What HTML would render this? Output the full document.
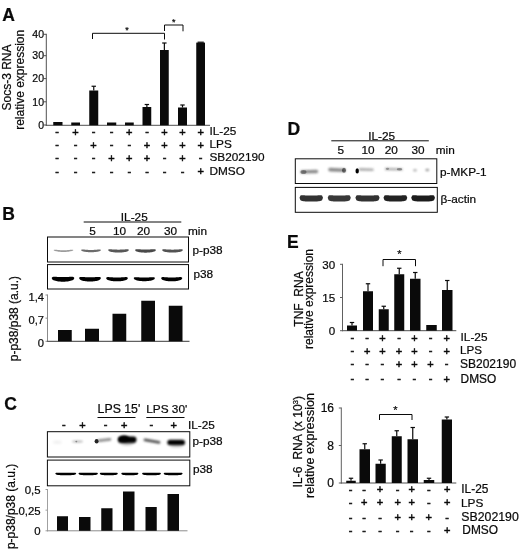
<!DOCTYPE html>
<html><head><meta charset="utf-8"><title>Figure</title>
<style>
html,body{margin:0;padding:0;background:#fff;}
svg{display:block;font-family:'Liberation Sans', sans-serif;fill:#0a0a0a;}
text{stroke:#0a0a0a;stroke-width:0.22px;}
text.s{stroke-width:0.5px;}
</style></head><body>
<svg width="520" height="552" viewBox="0 0 520 552">
<defs>
<filter id="b1" filterUnits="userSpaceOnUse" x="0" y="0" width="520" height="552"><feGaussianBlur stdDeviation="0.9"/></filter>
<filter id="b2" filterUnits="userSpaceOnUse" x="0" y="0" width="520" height="552"><feGaussianBlur stdDeviation="1.4"/></filter>
<filter id="b04" filterUnits="userSpaceOnUse" x="0" y="0" width="520" height="552"><feGaussianBlur stdDeviation="0.4"/></filter>
<filter id="b07" filterUnits="userSpaceOnUse" x="0" y="0" width="520" height="552"><feGaussianBlur stdDeviation="0.75"/></filter>
<filter id="b05" filterUnits="userSpaceOnUse" x="0" y="0" width="520" height="552"><feGaussianBlur stdDeviation="0.6"/></filter>
</defs>
<rect width="520" height="552" fill="#fff"/>

<text x="2.3" y="20.6" font-size="17.5" text-anchor="start" font-weight="bold" >A</text>
<text transform="translate(11.2,77.5) rotate(-90)" font-size="12" text-anchor="middle" >Socs-3 RNA</text>
<text transform="translate(23.5,79.8) rotate(-90)" font-size="12" text-anchor="middle" >relative expression</text>
<line x1="46.3" y1="33.8" x2="46.3" y2="125.8" stroke="#505050" stroke-width="1"/>
<line x1="45.8" y1="125.3" x2="210" y2="125.3" stroke="#505050" stroke-width="1"/>
<line x1="43.8" y1="125.0" x2="46.3" y2="125.0" stroke="#505050" stroke-width="1"/>
<text x="44" y="128.7" font-size="10.5" text-anchor="end" font-weight="normal" >0</text>
<line x1="43.8" y1="101.8" x2="46.3" y2="101.8" stroke="#505050" stroke-width="1"/>
<text x="44" y="105.5" font-size="10.5" text-anchor="end" font-weight="normal" >10</text>
<line x1="43.8" y1="78.6" x2="46.3" y2="78.6" stroke="#505050" stroke-width="1"/>
<text x="44" y="82.3" font-size="10.5" text-anchor="end" font-weight="normal" >20</text>
<line x1="43.8" y1="55.7" x2="46.3" y2="55.7" stroke="#505050" stroke-width="1"/>
<text x="44" y="59.400000000000006" font-size="10.5" text-anchor="end" font-weight="normal" >30</text>
<line x1="43.8" y1="34.3" x2="46.3" y2="34.3" stroke="#505050" stroke-width="1"/>
<text x="44" y="38.0" font-size="10.5" text-anchor="end" font-weight="normal" >40</text>
<rect x="53.25" y="122" width="9.25" height="3.299999999999997" fill="#0a0a0a"/>
<rect x="71.25" y="122.5" width="8.75" height="2.799999999999997" fill="#0a0a0a"/>
<rect x="89.25" y="90.5" width="9.0" height="34.8" fill="#0a0a0a"/>
<line x1="93.75" y1="86.25" x2="93.75" y2="90.5" stroke="#0a0a0a" stroke-width="1.2"/>
<line x1="91.55" y1="86.25" x2="95.95" y2="86.25" stroke="#0a0a0a" stroke-width="1.2"/>
<rect x="107" y="122.5" width="9.25" height="2.799999999999997" fill="#0a0a0a"/>
<rect x="125" y="122.5" width="8.75" height="2.799999999999997" fill="#0a0a0a"/>
<rect x="142.5" y="107" width="8.75" height="18.299999999999997" fill="#0a0a0a"/>
<line x1="146.875" y1="104.5" x2="146.875" y2="107" stroke="#0a0a0a" stroke-width="1.2"/>
<line x1="144.675" y1="104.5" x2="149.075" y2="104.5" stroke="#0a0a0a" stroke-width="1.2"/>
<rect x="160" y="50" width="8.75" height="75.3" fill="#0a0a0a"/>
<line x1="164.375" y1="43" x2="164.375" y2="50" stroke="#0a0a0a" stroke-width="1.2"/>
<line x1="162.175" y1="43" x2="166.575" y2="43" stroke="#0a0a0a" stroke-width="1.2"/>
<rect x="178" y="107.5" width="9" height="17.799999999999997" fill="#0a0a0a"/>
<line x1="182.5" y1="105" x2="182.5" y2="107.5" stroke="#0a0a0a" stroke-width="1.2"/>
<line x1="180.3" y1="105" x2="184.7" y2="105" stroke="#0a0a0a" stroke-width="1.2"/>
<rect x="196.25" y="42.6" width="8.75" height="82.69999999999999" fill="#0a0a0a"/>
<rect x="197.6" y="41.6" width="6.2" height="1.2" fill="#0a0a0a"/>
<polyline points="92.5,39 92.5,33.3 164.5,33.3 164.5,39.5" fill="none" stroke="#0a0a0a" stroke-width="1"/>
<polyline points="164.5,31 164.5,25 183,25 183,31.3" fill="none" stroke="#0a0a0a" stroke-width="1"/>
<text x="127" y="33.2" font-size="9" text-anchor="middle" font-weight="normal" >*</text>
<text x="173.8" y="25" font-size="9" text-anchor="middle" font-weight="normal" >*</text>
<text x="57" y="135.2" font-size="11" text-anchor="middle" font-weight="normal" class="s">-</text>
<text x="75.5" y="135.6" font-size="11" text-anchor="middle" font-weight="normal" class="s">+</text>
<text x="93.5" y="135.2" font-size="11" text-anchor="middle" font-weight="normal" class="s">-</text>
<text x="111.5" y="135.2" font-size="11" text-anchor="middle" font-weight="normal" class="s">-</text>
<text x="129.3" y="135.6" font-size="11" text-anchor="middle" font-weight="normal" class="s">+</text>
<text x="147" y="135.2" font-size="11" text-anchor="middle" font-weight="normal" class="s">-</text>
<text x="164.5" y="135.6" font-size="11" text-anchor="middle" font-weight="normal" class="s">+</text>
<text x="182.5" y="135.6" font-size="11" text-anchor="middle" font-weight="normal" class="s">+</text>
<text x="200.7" y="135.6" font-size="11" text-anchor="middle" font-weight="normal" class="s">+</text>
<text x="57" y="148.2" font-size="11" text-anchor="middle" font-weight="normal" class="s">-</text>
<text x="75.5" y="148.2" font-size="11" text-anchor="middle" font-weight="normal" class="s">-</text>
<text x="93.5" y="148.6" font-size="11" text-anchor="middle" font-weight="normal" class="s">+</text>
<text x="111.5" y="148.2" font-size="11" text-anchor="middle" font-weight="normal" class="s">-</text>
<text x="129.3" y="148.2" font-size="11" text-anchor="middle" font-weight="normal" class="s">-</text>
<text x="147" y="148.6" font-size="11" text-anchor="middle" font-weight="normal" class="s">+</text>
<text x="164.5" y="148.6" font-size="11" text-anchor="middle" font-weight="normal" class="s">+</text>
<text x="182.5" y="148.6" font-size="11" text-anchor="middle" font-weight="normal" class="s">+</text>
<text x="200.7" y="148.6" font-size="11" text-anchor="middle" font-weight="normal" class="s">+</text>
<text x="57" y="161.2" font-size="11" text-anchor="middle" font-weight="normal" class="s">-</text>
<text x="75.5" y="161.2" font-size="11" text-anchor="middle" font-weight="normal" class="s">-</text>
<text x="93.5" y="161.2" font-size="11" text-anchor="middle" font-weight="normal" class="s">-</text>
<text x="111.5" y="161.6" font-size="11" text-anchor="middle" font-weight="normal" class="s">+</text>
<text x="129.3" y="161.6" font-size="11" text-anchor="middle" font-weight="normal" class="s">+</text>
<text x="147" y="161.6" font-size="11" text-anchor="middle" font-weight="normal" class="s">+</text>
<text x="164.5" y="161.2" font-size="11" text-anchor="middle" font-weight="normal" class="s">-</text>
<text x="182.5" y="161.6" font-size="11" text-anchor="middle" font-weight="normal" class="s">+</text>
<text x="200.7" y="161.2" font-size="11" text-anchor="middle" font-weight="normal" class="s">-</text>
<text x="57" y="174.5" font-size="11" text-anchor="middle" font-weight="normal" class="s">-</text>
<text x="75.5" y="174.5" font-size="11" text-anchor="middle" font-weight="normal" class="s">-</text>
<text x="93.5" y="174.5" font-size="11" text-anchor="middle" font-weight="normal" class="s">-</text>
<text x="111.5" y="174.5" font-size="11" text-anchor="middle" font-weight="normal" class="s">-</text>
<text x="129.3" y="174.5" font-size="11" text-anchor="middle" font-weight="normal" class="s">-</text>
<text x="147" y="174.5" font-size="11" text-anchor="middle" font-weight="normal" class="s">-</text>
<text x="164.5" y="174.5" font-size="11" text-anchor="middle" font-weight="normal" class="s">-</text>
<text x="182.5" y="174.5" font-size="11" text-anchor="middle" font-weight="normal" class="s">-</text>
<text x="200.7" y="174.9" font-size="11" text-anchor="middle" font-weight="normal" class="s">+</text>
<text x="209.5" y="135.2" font-size="11.8" text-anchor="start" font-weight="normal" >IL-25</text>
<text x="209.5" y="147.8" font-size="11.8" text-anchor="start" font-weight="normal" >LPS</text>
<text x="209.5" y="161.3" font-size="11.8" text-anchor="start" font-weight="normal" >SB202190</text>
<text x="209.5" y="174.6" font-size="11.8" text-anchor="start" font-weight="normal" >DMSO</text>
<text x="2.2" y="219.6" font-size="17.5" text-anchor="start" font-weight="bold" >B</text>
<text x="134.3" y="220.8" font-size="11.8" text-anchor="middle" font-weight="normal" >IL-25</text>
<line x1="83.7" y1="222" x2="181.3" y2="222" stroke="#0a0a0a" stroke-width="1"/>
<text x="92.5" y="234.5" font-size="11.8" text-anchor="middle" font-weight="normal" >5</text>
<text x="119.5" y="234.5" font-size="11.8" text-anchor="middle" font-weight="normal" >10</text>
<text x="143.5" y="234.5" font-size="11.8" text-anchor="middle" font-weight="normal" >20</text>
<text x="170.6" y="234.5" font-size="11.8" text-anchor="middle" font-weight="normal" >30</text>
<text x="188" y="234.5" font-size="11.8" text-anchor="start" font-weight="normal" >min</text>
<rect x="47.5" y="237" width="141.0" height="25" fill="#fff" stroke="#0a0a0a" stroke-width="1"/>
<rect x="47.5" y="264.6" width="141.0" height="24.399999999999977" fill="#fff" stroke="#0a0a0a" stroke-width="1"/>
<text x="192.5" y="253.8" font-size="11.8" text-anchor="start" font-weight="normal" >p-p38</text>
<text x="193.5" y="278.3" font-size="11.8" text-anchor="start" font-weight="normal" >p38</text>
<path d="M53.50,250.00 L54.33,249.66 L55.17,249.70 L56.00,249.77 L56.83,249.86 L57.67,249.94 L58.50,250.01 L59.33,250.08 L60.17,250.14 L61.00,250.19 L61.83,250.22 L62.67,250.24 L63.50,250.25 L64.33,250.24 L65.17,250.22 L66.00,250.19 L66.83,250.14 L67.67,250.08 L68.50,250.01 L69.33,249.94 L70.17,249.86 L71.00,249.77 L71.83,249.70 L72.67,249.66 L73.50,250.00 L73.50,250.00 L72.67,250.70 L71.83,250.97 L71.00,251.19 L70.17,251.37 L69.33,251.52 L68.50,251.64 L67.67,251.74 L66.83,251.82 L66.00,251.88 L65.17,251.92 L64.33,251.94 L63.50,251.95 L62.67,251.94 L61.83,251.92 L61.00,251.88 L60.17,251.82 L59.33,251.74 L58.50,251.64 L57.67,251.52 L56.83,251.37 L56.00,251.19 L55.17,250.97 L54.33,250.70 L53.50,250.00Z" fill="#9c9c9c" opacity="1.0" filter="url(#b04)"/>
<path d="M81.00,250.00 L81.83,249.47 L82.67,249.47 L83.50,249.52 L84.33,249.59 L85.17,249.66 L86.00,249.73 L86.83,249.79 L87.67,249.84 L88.50,249.89 L89.33,249.92 L90.17,249.94 L91.00,249.95 L91.83,249.94 L92.67,249.92 L93.50,249.89 L94.33,249.84 L95.17,249.79 L96.00,249.73 L96.83,249.66 L97.67,249.59 L98.50,249.52 L99.33,249.47 L100.17,249.47 L101.00,250.00 L101.00,250.00 L100.17,250.88 L99.33,251.20 L98.50,251.44 L97.67,251.63 L96.83,251.79 L96.00,251.92 L95.17,252.03 L94.33,252.11 L93.50,252.18 L92.67,252.22 L91.83,252.24 L91.00,252.25 L90.17,252.24 L89.33,252.22 L88.50,252.18 L87.67,252.11 L86.83,252.03 L86.00,251.92 L85.17,251.79 L84.33,251.63 L83.50,251.44 L82.67,251.20 L81.83,250.88 L81.00,250.00Z" fill="#6c6c6c" opacity="1.0" filter="url(#b04)"/>
<path d="M108.00,250.00 L108.88,249.29 L109.75,249.25 L110.62,249.27 L111.50,249.32 L112.38,249.38 L113.25,249.44 L114.12,249.49 L115.00,249.55 L115.88,249.59 L116.75,249.62 L117.62,249.64 L118.50,249.65 L119.38,249.64 L120.25,249.62 L121.12,249.59 L122.00,249.55 L122.88,249.49 L123.75,249.44 L124.62,249.38 L125.50,249.32 L126.38,249.27 L127.25,249.25 L128.12,249.29 L129.00,250.00 L129.00,250.00 L128.12,251.06 L127.25,251.42 L126.38,251.69 L125.50,251.90 L124.62,252.07 L123.75,252.21 L122.88,252.32 L122.00,252.41 L121.12,252.47 L120.25,252.52 L119.38,252.54 L118.50,252.55 L117.62,252.54 L116.75,252.52 L115.88,252.47 L115.00,252.41 L114.12,252.32 L113.25,252.21 L112.38,252.07 L111.50,251.90 L110.62,251.69 L109.75,251.42 L108.88,251.06 L108.00,250.00Z" fill="#585858" opacity="1.0" filter="url(#b04)"/>
<path d="M135.00,250.00 L135.88,249.23 L136.75,249.17 L137.62,249.19 L138.50,249.23 L139.38,249.29 L140.25,249.34 L141.12,249.40 L142.00,249.45 L142.88,249.49 L143.75,249.52 L144.62,249.54 L145.50,249.55 L146.38,249.54 L147.25,249.52 L148.12,249.49 L149.00,249.45 L149.88,249.40 L150.75,249.34 L151.62,249.29 L152.50,249.23 L153.38,249.19 L154.25,249.17 L155.12,249.23 L156.00,250.00 L156.00,250.00 L155.12,251.13 L154.25,251.50 L153.38,251.77 L152.50,251.99 L151.62,252.17 L150.75,252.31 L149.88,252.42 L149.00,252.51 L148.12,252.57 L147.25,252.62 L146.38,252.64 L145.50,252.65 L144.62,252.64 L143.75,252.62 L142.88,252.57 L142.00,252.51 L141.12,252.42 L140.25,252.31 L139.38,252.17 L138.50,251.99 L137.62,251.77 L136.75,251.50 L135.88,251.13 L135.00,250.00Z" fill="#4a4a4a" opacity="1.0" filter="url(#b04)"/>
<path d="M162.00,250.00 L162.88,249.29 L163.75,249.25 L164.62,249.27 L165.50,249.32 L166.38,249.38 L167.25,249.44 L168.12,249.49 L169.00,249.55 L169.88,249.59 L170.75,249.62 L171.62,249.64 L172.50,249.65 L173.38,249.64 L174.25,249.62 L175.12,249.59 L176.00,249.55 L176.88,249.49 L177.75,249.44 L178.62,249.38 L179.50,249.32 L180.38,249.27 L181.25,249.25 L182.12,249.29 L183.00,250.00 L183.00,250.00 L182.12,251.06 L181.25,251.42 L180.38,251.69 L179.50,251.90 L178.62,252.07 L177.75,252.21 L176.88,252.32 L176.00,252.41 L175.12,252.47 L174.25,252.52 L173.38,252.54 L172.50,252.55 L171.62,252.54 L170.75,252.52 L169.88,252.47 L169.00,252.41 L168.12,252.32 L167.25,252.21 L166.38,252.07 L165.50,251.90 L164.62,251.69 L163.75,251.42 L162.88,251.06 L162.00,250.00Z" fill="#525252" opacity="1.0" filter="url(#b04)"/>
<path d="M51.60,278.10 L52.55,276.90 L53.50,276.77 L54.45,276.75 L55.40,276.78 L56.35,276.82 L57.30,276.88 L58.25,276.93 L59.20,276.98 L60.15,277.03 L61.10,277.07 L62.05,277.09 L63.00,277.10 L63.95,277.09 L64.90,277.07 L65.85,277.03 L66.80,276.98 L67.75,276.93 L68.70,276.88 L69.65,276.82 L70.60,276.78 L71.55,276.75 L72.50,276.77 L73.45,276.90 L74.40,278.10 L74.40,278.10 L73.45,279.72 L72.50,280.22 L71.55,280.58 L70.60,280.87 L69.65,281.09 L68.70,281.27 L67.75,281.42 L66.80,281.53 L65.85,281.61 L64.90,281.66 L63.95,281.69 L63.00,281.70 L62.05,281.69 L61.10,281.66 L60.15,281.61 L59.20,281.53 L58.25,281.42 L57.30,281.27 L56.35,281.09 L55.40,280.87 L54.45,280.58 L53.50,280.22 L52.55,279.72 L51.60,278.10Z" fill="#050505" opacity="1.0" filter="url(#b04)"/>
<path d="M79.00,278.10 L79.92,277.02 L80.83,276.92 L81.75,276.92 L82.67,276.95 L83.58,277.01 L84.50,277.07 L85.42,277.13 L86.33,277.18 L87.25,277.23 L88.17,277.27 L89.08,277.29 L90.00,277.30 L90.92,277.29 L91.83,277.27 L92.75,277.23 L93.67,277.18 L94.58,277.13 L95.50,277.07 L96.42,277.01 L97.33,276.95 L98.25,276.92 L99.17,276.92 L100.08,277.02 L101.00,278.10 L101.00,278.10 L100.08,279.59 L99.17,280.07 L98.25,280.42 L97.33,280.69 L96.42,280.91 L95.50,281.08 L94.58,281.22 L93.67,281.33 L92.75,281.41 L91.83,281.46 L90.92,281.49 L90.00,281.50 L89.08,281.49 L88.17,281.46 L87.25,281.41 L86.33,281.33 L85.42,281.22 L84.50,281.08 L83.58,280.91 L82.67,280.69 L81.75,280.42 L80.83,280.07 L79.92,279.59 L79.00,278.10Z" fill="#050505" opacity="1.0" filter="url(#b04)"/>
<path d="M106.00,278.10 L106.92,277.14 L107.83,277.07 L108.75,277.09 L109.67,277.13 L110.58,277.19 L111.50,277.26 L112.42,277.32 L113.33,277.38 L114.25,277.43 L115.17,277.47 L116.08,277.49 L117.00,277.50 L117.92,277.49 L118.83,277.47 L119.75,277.43 L120.67,277.38 L121.58,277.32 L122.50,277.26 L123.42,277.19 L124.33,277.13 L125.25,277.09 L126.17,277.07 L127.08,277.14 L128.00,278.10 L128.00,278.10 L127.08,279.47 L126.17,279.92 L125.25,280.25 L124.33,280.51 L123.42,280.72 L122.50,280.89 L121.58,281.03 L120.67,281.13 L119.75,281.21 L118.83,281.26 L117.92,281.29 L117.00,281.30 L116.08,281.29 L115.17,281.26 L114.25,281.21 L113.33,281.13 L112.42,281.03 L111.50,280.89 L110.58,280.72 L109.67,280.51 L108.75,280.25 L107.83,279.92 L106.92,279.47 L106.00,278.10Z" fill="#050505" opacity="1.0" filter="url(#b04)"/>
<path d="M133.60,278.10 L134.49,277.21 L135.38,277.15 L136.28,277.17 L137.17,277.22 L138.06,277.29 L138.95,277.35 L139.84,277.42 L140.73,277.48 L141.62,277.53 L142.52,277.57 L143.41,277.59 L144.30,277.60 L145.19,277.59 L146.08,277.57 L146.97,277.53 L147.87,277.48 L148.76,277.42 L149.65,277.35 L150.54,277.29 L151.43,277.22 L152.32,277.17 L153.22,277.15 L154.11,277.21 L155.00,278.10 L155.00,278.10 L154.11,279.41 L153.22,279.85 L152.32,280.17 L151.43,280.42 L150.54,280.63 L149.65,280.80 L148.76,280.93 L147.87,281.03 L146.97,281.11 L146.08,281.16 L145.19,281.19 L144.30,281.20 L143.41,281.19 L142.52,281.16 L141.62,281.11 L140.73,281.03 L139.84,280.93 L138.95,280.80 L138.06,280.63 L137.17,280.42 L136.28,280.17 L135.38,279.85 L134.49,279.41 L133.60,278.10Z" fill="#050505" opacity="1.0" filter="url(#b04)"/>
<path d="M161.00,278.10 L161.89,277.14 L162.78,277.07 L163.68,277.09 L164.57,277.13 L165.46,277.19 L166.35,277.26 L167.24,277.32 L168.13,277.38 L169.03,277.43 L169.92,277.47 L170.81,277.49 L171.70,277.50 L172.59,277.49 L173.48,277.47 L174.38,277.43 L175.27,277.38 L176.16,277.32 L177.05,277.26 L177.94,277.19 L178.83,277.13 L179.72,277.09 L180.62,277.07 L181.51,277.14 L182.40,278.10 L182.40,278.10 L181.51,279.47 L180.62,279.92 L179.72,280.25 L178.83,280.51 L177.94,280.72 L177.05,280.89 L176.16,281.03 L175.27,281.13 L174.38,281.21 L173.48,281.26 L172.59,281.29 L171.70,281.30 L170.81,281.29 L169.92,281.26 L169.03,281.21 L168.13,281.13 L167.24,281.03 L166.35,280.89 L165.46,280.72 L164.57,280.51 L163.68,280.25 L162.78,279.92 L161.89,279.47 L161.00,278.10Z" fill="#050505" opacity="1.0" filter="url(#b04)"/>
<text transform="translate(17.8,318.6) rotate(-90)" font-size="12" text-anchor="middle" >p-p38/p38 (a.u.)</text>
<line x1="47.5" y1="294.5" x2="47.5" y2="341.8" stroke="#8a8a8a" stroke-width="1"/>
<line x1="47.0" y1="341.3" x2="189.5" y2="341.3" stroke="#3a3a3a" stroke-width="1"/>
<line x1="45.5" y1="341.3" x2="47.5" y2="341.3" stroke="#8a8a8a" stroke-width="1"/>
<text x="44" y="346.90000000000003" font-size="11.2" text-anchor="end" font-weight="normal" >0</text>
<line x1="45.5" y1="318.15" x2="47.5" y2="318.15" stroke="#8a8a8a" stroke-width="1"/>
<text x="44" y="323.75" font-size="11.2" text-anchor="end" font-weight="normal" >0,7</text>
<line x1="45.5" y1="295.0" x2="47.5" y2="295.0" stroke="#8a8a8a" stroke-width="1"/>
<text x="44" y="300.6" font-size="11.2" text-anchor="end" font-weight="normal" >1,4</text>
<rect x="58" y="330" width="13.75" height="11.300000000000011" fill="#0a0a0a"/>
<rect x="85" y="328.75" width="14" height="12.550000000000011" fill="#0a0a0a"/>
<rect x="112.5" y="313.75" width="13.75" height="27.55000000000001" fill="#0a0a0a"/>
<rect x="141.25" y="300.75" width="13.75" height="40.55000000000001" fill="#0a0a0a"/>
<rect x="168.75" y="305.75" width="13.75" height="35.55000000000001" fill="#0a0a0a"/>
<text x="4.2" y="410" font-size="17.5" text-anchor="start" font-weight="bold" >C</text>
<text x="97.6" y="413.3" font-size="12.3" text-anchor="start" font-weight="normal" >LPS 15'</text>
<text x="146.3" y="413.3" font-size="11.8" text-anchor="start" font-weight="normal" >LPS 30'</text>
<line x1="97.5" y1="417.5" x2="135.5" y2="417.5" stroke="#0a0a0a" stroke-width="1"/>
<line x1="146.3" y1="417.5" x2="184.5" y2="417.5" stroke="#0a0a0a" stroke-width="1"/>
<text x="63.8" y="428.2" font-size="11" text-anchor="middle" font-weight="normal" class="s">-</text>
<text x="82.5" y="428.6" font-size="11" text-anchor="middle" font-weight="normal" class="s">+</text>
<text x="105.5" y="428.2" font-size="11" text-anchor="middle" font-weight="normal" class="s">-</text>
<text x="124.3" y="428.6" font-size="11" text-anchor="middle" font-weight="normal" class="s">+</text>
<text x="151.3" y="428.2" font-size="11" text-anchor="middle" font-weight="normal" class="s">-</text>
<text x="173.8" y="428.6" font-size="11" text-anchor="middle" font-weight="normal" class="s">+</text>
<text x="188" y="428.8" font-size="11.8" text-anchor="start" font-weight="normal" >IL-25</text>
<rect x="47.4" y="431.7" width="142.4" height="25.30000000000001" fill="#fff" stroke="#0a0a0a" stroke-width="1"/>
<rect x="47.4" y="460.1" width="142.4" height="25.69999999999999" fill="#fff" stroke="#0a0a0a" stroke-width="1"/>
<text x="192.5" y="445" font-size="11.8" text-anchor="start" font-weight="normal" >p-p38</text>
<text x="193" y="473.3" font-size="11.8" text-anchor="start" font-weight="normal" >p38</text>
<ellipse cx="57.3" cy="442.3" rx="4.5" ry="1.0" fill="#000" opacity="0.1" filter="url(#b2)"/>
<ellipse cx="77.5" cy="441.5" rx="5.5" ry="1.1" fill="#000" opacity="0.3" filter="url(#b1)"/>
<ellipse cx="76.3" cy="441.6" rx="1.0" ry="0.8" fill="#000" opacity="0.35" filter="url(#b05)"/>
<line x1="99" y1="440.6" x2="110" y2="439.4" stroke="#808080" stroke-width="2.6" stroke-linecap="round" opacity="0.9" filter="url(#b1)"/>
<ellipse cx="96.6" cy="441.3" rx="2.0" ry="2.3" fill="#000" opacity="0.85" filter="url(#b07)"/>
<ellipse cx="127" cy="441.5" rx="7.5" ry="3.5" fill="#000" opacity="0.35" filter="url(#b2)"/>
<rect x="117.8" y="436.59999999999997" width="18.700000000000003" height="6.2" rx="3.1" ry="3.1" fill="#000" opacity="1" filter="url(#b1)"/>
<ellipse cx="124" cy="438.6" rx="5.0" ry="3.0" fill="#000" opacity="1" filter="url(#b1)"/>
<line x1="145" y1="439.9" x2="159" y2="442.3" stroke="#555" stroke-width="2.8" stroke-linecap="round" opacity="1" filter="url(#b1)"/>
<ellipse cx="176.5" cy="445" rx="7.0" ry="2.0" fill="#000" opacity="0.3" filter="url(#b2)"/>
<rect x="167.3" y="439.7" width="17.69999999999999" height="5.4" rx="2.7" ry="2.7" fill="#000" opacity="1" filter="url(#b1)"/>
<path d="M55.20,473.60 L56.08,472.74 L56.96,472.66 L57.84,472.64 L58.72,472.64 L59.60,472.65 L60.48,472.67 L61.35,472.69 L62.23,472.71 L63.11,472.73 L63.99,472.74 L64.87,472.75 L65.75,472.75 L66.63,472.75 L67.51,472.74 L68.39,472.73 L69.27,472.71 L70.15,472.69 L71.03,472.67 L71.90,472.65 L72.78,472.64 L73.66,472.64 L74.54,472.66 L75.42,472.74 L76.30,473.60 L76.30,473.60 L75.42,474.58 L74.54,474.78 L73.66,474.91 L72.78,475.01 L71.90,475.08 L71.03,475.13 L70.15,475.17 L69.27,475.20 L68.39,475.22 L67.51,475.24 L66.63,475.25 L65.75,475.25 L64.87,475.25 L63.99,475.24 L63.11,475.22 L62.23,475.20 L61.35,475.17 L60.48,475.13 L59.60,475.08 L58.72,475.01 L57.84,474.91 L56.96,474.78 L56.08,474.58 L55.20,473.60Z" fill="#050505" opacity="1.0" filter="url(#b04)"/>
<path d="M78.40,473.60 L79.22,472.74 L80.03,472.66 L80.85,472.64 L81.67,472.64 L82.48,472.65 L83.30,472.67 L84.12,472.69 L84.93,472.71 L85.75,472.73 L86.57,472.74 L87.38,472.75 L88.20,472.75 L89.02,472.75 L89.83,472.74 L90.65,472.73 L91.47,472.71 L92.28,472.69 L93.10,472.67 L93.92,472.65 L94.73,472.64 L95.55,472.64 L96.37,472.66 L97.18,472.74 L98.00,473.60 L98.00,473.60 L97.18,474.58 L96.37,474.78 L95.55,474.91 L94.73,475.01 L93.92,475.08 L93.10,475.13 L92.28,475.17 L91.47,475.20 L90.65,475.22 L89.83,475.24 L89.02,475.25 L88.20,475.25 L87.38,475.25 L86.57,475.24 L85.75,475.22 L84.93,475.20 L84.12,475.17 L83.30,475.13 L82.48,475.08 L81.67,475.01 L80.85,474.91 L80.03,474.78 L79.22,474.58 L78.40,473.60Z" fill="#050505" opacity="1.0" filter="url(#b04)"/>
<path d="M99.70,473.60 L100.46,472.74 L101.22,472.66 L101.98,472.64 L102.73,472.64 L103.49,472.65 L104.25,472.67 L105.01,472.69 L105.77,472.71 L106.53,472.73 L107.28,472.74 L108.04,472.75 L108.80,472.75 L109.56,472.75 L110.32,472.74 L111.08,472.73 L111.83,472.71 L112.59,472.69 L113.35,472.67 L114.11,472.65 L114.87,472.64 L115.62,472.64 L116.38,472.66 L117.14,472.74 L117.90,473.60 L117.90,473.60 L117.14,474.58 L116.38,474.78 L115.62,474.91 L114.87,475.01 L114.11,475.08 L113.35,475.13 L112.59,475.17 L111.83,475.20 L111.08,475.22 L110.32,475.24 L109.56,475.25 L108.80,475.25 L108.04,475.25 L107.28,475.24 L106.53,475.22 L105.77,475.20 L105.01,475.17 L104.25,475.13 L103.49,475.08 L102.73,475.01 L101.98,474.91 L101.22,474.78 L100.46,474.58 L99.70,473.60Z" fill="#050505" opacity="1.0" filter="url(#b04)"/>
<path d="M121.20,473.60 L121.92,472.74 L122.64,472.66 L123.36,472.64 L124.08,472.64 L124.80,472.65 L125.53,472.67 L126.25,472.69 L126.97,472.71 L127.69,472.73 L128.41,472.74 L129.13,472.75 L129.85,472.75 L130.57,472.75 L131.29,472.74 L132.01,472.73 L132.73,472.71 L133.45,472.69 L134.18,472.67 L134.90,472.65 L135.62,472.64 L136.34,472.64 L137.06,472.66 L137.78,472.74 L138.50,473.60 L138.50,473.60 L137.78,474.58 L137.06,474.78 L136.34,474.91 L135.62,475.01 L134.90,475.08 L134.18,475.13 L133.45,475.17 L132.73,475.20 L132.01,475.22 L131.29,475.24 L130.57,475.25 L129.85,475.25 L129.13,475.25 L128.41,475.24 L127.69,475.22 L126.97,475.20 L126.25,475.17 L125.53,475.13 L124.80,475.08 L124.08,475.01 L123.36,474.91 L122.64,474.78 L121.92,474.58 L121.20,473.60Z" fill="#050505" opacity="1.0" filter="url(#b04)"/>
<path d="M142.00,473.60 L142.79,472.74 L143.58,472.66 L144.38,472.64 L145.17,472.64 L145.96,472.65 L146.75,472.67 L147.54,472.69 L148.33,472.71 L149.12,472.73 L149.92,472.74 L150.71,472.75 L151.50,472.75 L152.29,472.75 L153.08,472.74 L153.88,472.73 L154.67,472.71 L155.46,472.69 L156.25,472.67 L157.04,472.65 L157.83,472.64 L158.62,472.64 L159.42,472.66 L160.21,472.74 L161.00,473.60 L161.00,473.60 L160.21,474.58 L159.42,474.78 L158.62,474.91 L157.83,475.01 L157.04,475.08 L156.25,475.13 L155.46,475.17 L154.67,475.20 L153.88,475.22 L153.08,475.24 L152.29,475.25 L151.50,475.25 L150.71,475.25 L149.92,475.24 L149.12,475.22 L148.33,475.20 L147.54,475.17 L146.75,475.13 L145.96,475.08 L145.17,475.01 L144.38,474.91 L143.58,474.78 L142.79,474.58 L142.00,473.60Z" fill="#050505" opacity="1.0" filter="url(#b04)"/>
<path d="M163.60,473.60 L164.40,472.74 L165.19,472.66 L165.99,472.64 L166.78,472.64 L167.58,472.65 L168.38,472.67 L169.17,472.69 L169.97,472.71 L170.76,472.73 L171.56,472.74 L172.35,472.75 L173.15,472.75 L173.95,472.75 L174.74,472.74 L175.54,472.73 L176.33,472.71 L177.13,472.69 L177.92,472.67 L178.72,472.65 L179.52,472.64 L180.31,472.64 L181.11,472.66 L181.90,472.74 L182.70,473.60 L182.70,473.60 L181.90,474.58 L181.11,474.78 L180.31,474.91 L179.52,475.01 L178.72,475.08 L177.92,475.13 L177.13,475.17 L176.33,475.20 L175.54,475.22 L174.74,475.24 L173.95,475.25 L173.15,475.25 L172.35,475.25 L171.56,475.24 L170.76,475.22 L169.97,475.20 L169.17,475.17 L168.38,475.13 L167.58,475.08 L166.78,475.01 L165.99,474.91 L165.19,474.78 L164.40,474.58 L163.60,473.60Z" fill="#050505" opacity="1.0" filter="url(#b04)"/>
<text transform="translate(14.6,506.4) rotate(-90)" font-size="12" text-anchor="middle" >p-p38/p38 (a.u.)</text>
<line x1="47.5" y1="489.0" x2="47.5" y2="531.3" stroke="#a0a0a0" stroke-width="1"/>
<line x1="47.0" y1="530.8" x2="187.5" y2="530.8" stroke="#8c8c8c" stroke-width="1"/>
<line x1="45.5" y1="530.8" x2="47.5" y2="530.8" stroke="#a0a0a0" stroke-width="1"/>
<text x="40.6" y="535.1999999999999" font-size="11.4" text-anchor="end" font-weight="normal" >0</text>
<line x1="45.5" y1="510.15" x2="47.5" y2="510.15" stroke="#a0a0a0" stroke-width="1"/>
<text x="40.6" y="514.55" font-size="11.4" text-anchor="end" font-weight="normal" >0,25</text>
<line x1="45.5" y1="489.5" x2="47.5" y2="489.5" stroke="#a0a0a0" stroke-width="1"/>
<text x="40.6" y="493.9" font-size="11.4" text-anchor="end" font-weight="normal" >0,5</text>
<rect x="57" y="516.25" width="11" height="14.549999999999955" fill="#0a0a0a"/>
<rect x="79" y="517" width="11.5" height="13.799999999999955" fill="#0a0a0a"/>
<rect x="101.25" y="508.25" width="11.25" height="22.549999999999955" fill="#0a0a0a"/>
<rect x="123" y="491.5" width="11.5" height="39.299999999999955" fill="#0a0a0a"/>
<rect x="145.5" y="507" width="11.25" height="23.799999999999955" fill="#0a0a0a"/>
<rect x="167.5" y="494" width="11.5" height="36.799999999999955" fill="#0a0a0a"/>
<text x="287.6" y="134.6" font-size="17.5" text-anchor="start" font-weight="bold" >D</text>
<text x="381.6" y="140.1" font-size="11.8" text-anchor="middle" font-weight="normal" >IL-25</text>
<line x1="331.3" y1="140.8" x2="428.8" y2="140.8" stroke="#0a0a0a" stroke-width="1"/>
<text x="340.8" y="153.8" font-size="11.8" text-anchor="middle" font-weight="normal" >5</text>
<text x="368" y="153.8" font-size="11.8" text-anchor="middle" font-weight="normal" >10</text>
<text x="391.3" y="153.8" font-size="11.8" text-anchor="middle" font-weight="normal" >20</text>
<text x="418" y="153.8" font-size="11.8" text-anchor="middle" font-weight="normal" >30</text>
<text x="435.8" y="153.8" font-size="11.8" text-anchor="start" font-weight="normal" >min</text>
<rect x="295.3" y="158.8" width="141.5" height="24.69999999999999" fill="#fff" stroke="#0a0a0a" stroke-width="1"/>
<rect x="295.3" y="187.4" width="142.0" height="24.900000000000006" fill="#fff" stroke="#0a0a0a" stroke-width="1"/>
<text x="440" y="175.5" font-size="11.8" text-anchor="start" font-weight="normal" >p-MKP-1</text>
<text x="440.5" y="203" font-size="11.8" text-anchor="start" font-weight="normal" >β-actin</text>
<line x1="302" y1="171.9" x2="316.5" y2="171.5" stroke="#858585" stroke-width="3.4" stroke-linecap="round" opacity="0.95" filter="url(#b1)"/>
<ellipse cx="303.5" cy="172" rx="3.0" ry="2.0" fill="#000" opacity="0.35" filter="url(#b07)"/>
<line x1="330" y1="169.6" x2="344" y2="170.3" stroke="#858585" stroke-width="3.6" stroke-linecap="round" opacity="0.95" filter="url(#b1)"/>
<ellipse cx="344" cy="170.2" rx="2.0" ry="2.5" fill="#000" opacity="0.5" filter="url(#b07)"/>
<line x1="360" y1="169.4" x2="372.5" y2="169.8" stroke="#999" stroke-width="2.6" stroke-linecap="round" opacity="0.8" filter="url(#b1)"/>
<ellipse cx="357.2" cy="170.9" rx="1.7" ry="2.6" fill="#000" opacity="1" filter="url(#b05)"/>
<line x1="386" y1="169" x2="401.5" y2="169.4" stroke="#a2a2a2" stroke-width="2.4" stroke-linecap="round" opacity="0.85" filter="url(#b1)"/>
<ellipse cx="387.5" cy="168.8" rx="1.7" ry="1.1" fill="#000" opacity="0.28" filter="url(#b07)"/>
<ellipse cx="399.5" cy="169.3" rx="2.75" ry="1.3" fill="#000" opacity="0.34" filter="url(#b07)"/>
<ellipse cx="415" cy="170.2" rx="1.8" ry="1.2" fill="#000" opacity="0.3" filter="url(#b1)"/>
<ellipse cx="427.3" cy="170" rx="1.9" ry="1.3" fill="#000" opacity="0.4" filter="url(#b1)"/>
<path d="M299.50,197.80 L300.48,195.49 L301.46,195.34 L302.44,195.31 L303.42,195.33 L304.40,195.37 L305.38,195.42 L306.35,195.47 L307.33,195.51 L308.31,195.55 L309.29,195.58 L310.27,195.59 L311.25,195.60 L312.23,195.59 L313.21,195.58 L314.19,195.55 L315.17,195.51 L316.15,195.47 L317.12,195.42 L318.10,195.37 L319.08,195.33 L320.06,195.31 L321.04,195.34 L322.02,195.49 L323.00,197.80 L323.00,197.80 L322.02,200.36 L321.04,200.75 L320.06,200.99 L319.08,201.16 L318.10,201.29 L317.12,201.38 L316.15,201.45 L315.17,201.51 L314.19,201.55 L313.21,201.58 L312.23,201.59 L311.25,201.60 L310.27,201.59 L309.29,201.58 L308.31,201.55 L307.33,201.51 L306.35,201.45 L305.38,201.38 L304.40,201.29 L303.42,201.16 L302.44,200.99 L301.46,200.75 L300.48,200.36 L299.50,197.80Z" fill="#303030" opacity="1" filter="url(#b07)"/>
<path d="M327.70,197.80 L328.66,195.49 L329.62,195.34 L330.59,195.31 L331.55,195.33 L332.51,195.37 L333.48,195.42 L334.44,195.47 L335.40,195.51 L336.36,195.55 L337.32,195.58 L338.29,195.59 L339.25,195.60 L340.21,195.59 L341.18,195.58 L342.14,195.55 L343.10,195.51 L344.06,195.47 L345.02,195.42 L345.99,195.37 L346.95,195.33 L347.91,195.31 L348.88,195.34 L349.84,195.49 L350.80,197.80 L350.80,197.80 L349.84,200.36 L348.88,200.75 L347.91,200.99 L346.95,201.16 L345.99,201.29 L345.02,201.38 L344.06,201.45 L343.10,201.51 L342.14,201.55 L341.18,201.58 L340.21,201.59 L339.25,201.60 L338.29,201.59 L337.32,201.58 L336.36,201.55 L335.40,201.51 L334.44,201.45 L333.48,201.38 L332.51,201.29 L331.55,201.16 L330.59,200.99 L329.62,200.75 L328.66,200.36 L327.70,197.80Z" fill="#383838" opacity="1" filter="url(#b07)"/>
<path d="M355.40,197.80 L356.41,195.49 L357.42,195.34 L358.42,195.31 L359.43,195.33 L360.44,195.37 L361.45,195.42 L362.46,195.47 L363.47,195.51 L364.48,195.55 L365.48,195.58 L366.49,195.59 L367.50,195.60 L368.51,195.59 L369.52,195.58 L370.52,195.55 L371.53,195.51 L372.54,195.47 L373.55,195.42 L374.56,195.37 L375.57,195.33 L376.58,195.31 L377.58,195.34 L378.59,195.49 L379.60,197.80 L379.60,197.80 L378.59,200.36 L377.58,200.75 L376.58,200.99 L375.57,201.16 L374.56,201.29 L373.55,201.38 L372.54,201.45 L371.53,201.51 L370.52,201.55 L369.52,201.58 L368.51,201.59 L367.50,201.60 L366.49,201.59 L365.48,201.58 L364.48,201.55 L363.47,201.51 L362.46,201.45 L361.45,201.38 L360.44,201.29 L359.43,201.16 L358.42,200.99 L357.42,200.75 L356.41,200.36 L355.40,197.80Z" fill="#303030" opacity="1" filter="url(#b07)"/>
<path d="M383.50,197.80 L384.49,195.49 L385.48,195.34 L386.48,195.31 L387.47,195.33 L388.46,195.37 L389.45,195.42 L390.44,195.47 L391.43,195.51 L392.43,195.55 L393.42,195.58 L394.41,195.59 L395.40,195.60 L396.39,195.59 L397.38,195.58 L398.38,195.55 L399.37,195.51 L400.36,195.47 L401.35,195.42 L402.34,195.37 L403.33,195.33 L404.32,195.31 L405.32,195.34 L406.31,195.49 L407.30,197.80 L407.30,197.80 L406.31,200.36 L405.32,200.75 L404.32,200.99 L403.33,201.16 L402.34,201.29 L401.35,201.38 L400.36,201.45 L399.37,201.51 L398.38,201.55 L397.38,201.58 L396.39,201.59 L395.40,201.60 L394.41,201.59 L393.42,201.58 L392.43,201.55 L391.43,201.51 L390.44,201.45 L389.45,201.38 L388.46,201.29 L387.47,201.16 L386.48,200.99 L385.48,200.75 L384.49,200.36 L383.50,197.80Z" fill="#222" opacity="1" filter="url(#b07)"/>
<path d="M411.20,197.80 L412.19,195.49 L413.18,195.34 L414.18,195.31 L415.17,195.33 L416.16,195.37 L417.15,195.42 L418.14,195.47 L419.13,195.51 L420.12,195.55 L421.12,195.58 L422.11,195.59 L423.10,195.60 L424.09,195.59 L425.08,195.58 L426.07,195.55 L427.07,195.51 L428.06,195.47 L429.05,195.42 L430.04,195.37 L431.03,195.33 L432.02,195.31 L433.02,195.34 L434.01,195.49 L435.00,197.80 L435.00,197.80 L434.01,200.36 L433.02,200.75 L432.02,200.99 L431.03,201.16 L430.04,201.29 L429.05,201.38 L428.06,201.45 L427.07,201.51 L426.07,201.55 L425.08,201.58 L424.09,201.59 L423.10,201.60 L422.11,201.59 L421.12,201.58 L420.12,201.55 L419.13,201.51 L418.14,201.45 L417.15,201.38 L416.16,201.29 L415.17,201.16 L414.18,200.99 L413.18,200.75 L412.19,200.36 L411.20,197.80Z" fill="#1e1e1e" opacity="1" filter="url(#b07)"/>
<text x="287" y="248" font-size="17.5" text-anchor="start" font-weight="bold" >E</text>
<text transform="translate(303,299) rotate(-90)" font-size="12" text-anchor="middle" xml:space="preserve">TNF&#160; RNA</text>
<text transform="translate(313,299) rotate(-90)" font-size="12" text-anchor="middle" >relative expression</text>
<line x1="342.5" y1="263.8" x2="342.5" y2="331.2" stroke="#606060" stroke-width="1"/>
<line x1="342.0" y1="330.7" x2="456.3" y2="330.7" stroke="#505050" stroke-width="1"/>
<line x1="340.0" y1="330.7" x2="342.5" y2="330.7" stroke="#606060" stroke-width="1"/>
<text x="335.2" y="334.9" font-size="11.6" text-anchor="end" font-weight="normal" >0</text>
<line x1="340.0" y1="297.5" x2="342.5" y2="297.5" stroke="#606060" stroke-width="1"/>
<text x="335.2" y="301.7" font-size="11.6" text-anchor="end" font-weight="normal" >15</text>
<line x1="340.0" y1="264.3" x2="342.5" y2="264.3" stroke="#606060" stroke-width="1"/>
<text x="335.2" y="268.5" font-size="11.6" text-anchor="end" font-weight="normal" >30</text>
<rect x="347" y="325.5" width="10" height="5.199999999999989" fill="#0a0a0a"/>
<line x1="352.0" y1="322.5" x2="352.0" y2="325.5" stroke="#0a0a0a" stroke-width="1.2"/>
<line x1="349.8" y1="322.5" x2="354.2" y2="322.5" stroke="#0a0a0a" stroke-width="1.2"/>
<rect x="363" y="291.25" width="10" height="39.44999999999999" fill="#0a0a0a"/>
<line x1="368.0" y1="283.75" x2="368.0" y2="291.25" stroke="#0a0a0a" stroke-width="1.2"/>
<line x1="365.8" y1="283.75" x2="370.2" y2="283.75" stroke="#0a0a0a" stroke-width="1.2"/>
<rect x="378.75" y="309.25" width="10.0" height="21.44999999999999" fill="#0a0a0a"/>
<line x1="383.75" y1="306.25" x2="383.75" y2="309.25" stroke="#0a0a0a" stroke-width="1.2"/>
<line x1="381.55" y1="306.25" x2="385.95" y2="306.25" stroke="#0a0a0a" stroke-width="1.2"/>
<rect x="394.25" y="274.25" width="10.0" height="56.44999999999999" fill="#0a0a0a"/>
<line x1="399.25" y1="268.25" x2="399.25" y2="274.25" stroke="#0a0a0a" stroke-width="1.2"/>
<line x1="397.05" y1="268.25" x2="401.45" y2="268.25" stroke="#0a0a0a" stroke-width="1.2"/>
<rect x="410" y="278.75" width="10.5" height="51.94999999999999" fill="#0a0a0a"/>
<line x1="415.25" y1="272.5" x2="415.25" y2="278.75" stroke="#0a0a0a" stroke-width="1.2"/>
<line x1="413.05" y1="272.5" x2="417.45" y2="272.5" stroke="#0a0a0a" stroke-width="1.2"/>
<rect x="426.25" y="325" width="10.5" height="5.699999999999989" fill="#0a0a0a"/>
<rect x="442" y="290" width="10.5" height="40.69999999999999" fill="#0a0a0a"/>
<line x1="447.25" y1="280.5" x2="447.25" y2="290" stroke="#0a0a0a" stroke-width="1.2"/>
<line x1="445.05" y1="280.5" x2="449.45" y2="280.5" stroke="#0a0a0a" stroke-width="1.2"/>
<polyline points="383,266.2 383,259.5 415.5,259.5 415.5,266.2" fill="none" stroke="#0a0a0a" stroke-width="1"/>
<text x="399.5" y="258" font-size="11" text-anchor="middle" font-weight="normal" >*</text>
<text x="352.4" y="341.2" font-size="11" text-anchor="middle" font-weight="normal" class="s">-</text>
<text x="367.2" y="341.2" font-size="11" text-anchor="middle" font-weight="normal" class="s">-</text>
<text x="382.4" y="341.6" font-size="11" text-anchor="middle" font-weight="normal" class="s">+</text>
<text x="399" y="341.2" font-size="11" text-anchor="middle" font-weight="normal" class="s">-</text>
<text x="414.4" y="341.6" font-size="11" text-anchor="middle" font-weight="normal" class="s">+</text>
<text x="430.5" y="341.2" font-size="11" text-anchor="middle" font-weight="normal" class="s">-</text>
<text x="446.6" y="341.6" font-size="11" text-anchor="middle" font-weight="normal" class="s">+</text>
<text x="352.4" y="354.2" font-size="11" text-anchor="middle" font-weight="normal" class="s">-</text>
<text x="367.2" y="354.6" font-size="11" text-anchor="middle" font-weight="normal" class="s">+</text>
<text x="382.4" y="354.6" font-size="11" text-anchor="middle" font-weight="normal" class="s">+</text>
<text x="399" y="354.6" font-size="11" text-anchor="middle" font-weight="normal" class="s">+</text>
<text x="414.4" y="354.6" font-size="11" text-anchor="middle" font-weight="normal" class="s">+</text>
<text x="430.5" y="354.2" font-size="11" text-anchor="middle" font-weight="normal" class="s">-</text>
<text x="446.6" y="354.6" font-size="11" text-anchor="middle" font-weight="normal" class="s">+</text>
<text x="352.4" y="367.2" font-size="11" text-anchor="middle" font-weight="normal" class="s">-</text>
<text x="367.2" y="367.2" font-size="11" text-anchor="middle" font-weight="normal" class="s">-</text>
<text x="382.4" y="367.2" font-size="11" text-anchor="middle" font-weight="normal" class="s">-</text>
<text x="399" y="367.6" font-size="11" text-anchor="middle" font-weight="normal" class="s">+</text>
<text x="414.4" y="367.6" font-size="11" text-anchor="middle" font-weight="normal" class="s">+</text>
<text x="430.5" y="367.6" font-size="11" text-anchor="middle" font-weight="normal" class="s">+</text>
<text x="446.6" y="367.2" font-size="11" text-anchor="middle" font-weight="normal" class="s">-</text>
<text x="352.4" y="382.2" font-size="11" text-anchor="middle" font-weight="normal" class="s">-</text>
<text x="367.2" y="382.2" font-size="11" text-anchor="middle" font-weight="normal" class="s">-</text>
<text x="382.4" y="382.2" font-size="11" text-anchor="middle" font-weight="normal" class="s">-</text>
<text x="399" y="382.2" font-size="11" text-anchor="middle" font-weight="normal" class="s">-</text>
<text x="414.4" y="382.2" font-size="11" text-anchor="middle" font-weight="normal" class="s">-</text>
<text x="430.5" y="382.2" font-size="11" text-anchor="middle" font-weight="normal" class="s">-</text>
<text x="446.6" y="382.6" font-size="11" text-anchor="middle" font-weight="normal" class="s">+</text>
<text x="460.6" y="341.3" font-size="11.8" text-anchor="start" font-weight="normal" >IL-25</text>
<text x="460" y="354.3" font-size="11.6" text-anchor="start" font-weight="normal" >LPS</text>
<text x="460" y="367.5" font-size="12" text-anchor="start" font-weight="normal" >SB202190</text>
<text x="460.6" y="382.5" font-size="11.9" text-anchor="start" font-weight="normal" >DMSO</text>
<text transform="translate(302.0,441.8) rotate(-90)" font-size="12.2" text-anchor="middle" xml:space="preserve">IL-6&#160; RNA (x 10<tspan font-size="7.5" dy="-4">3</tspan><tspan dy="4">)</tspan></text>
<text transform="translate(313.6,445.5) rotate(-90)" font-size="12.6" text-anchor="middle" >relative expression</text>
<line x1="341.3" y1="407.5" x2="341.3" y2="483.5" stroke="#606060" stroke-width="1"/>
<line x1="340.8" y1="483" x2="456.3" y2="483" stroke="#505050" stroke-width="1"/>
<line x1="338.8" y1="483" x2="341.3" y2="483" stroke="#606060" stroke-width="1"/>
<text x="334" y="487.2" font-size="12" text-anchor="end" font-weight="normal" >0</text>
<line x1="338.8" y1="445.5" x2="341.3" y2="445.5" stroke="#606060" stroke-width="1"/>
<text x="334" y="449.7" font-size="12" text-anchor="end" font-weight="normal" >8</text>
<line x1="338.8" y1="408" x2="341.3" y2="408" stroke="#606060" stroke-width="1"/>
<text x="334" y="412.2" font-size="12" text-anchor="end" font-weight="normal" >16</text>
<rect x="346.25" y="480.75" width="9.5" height="2.25" fill="#0a0a0a"/>
<line x1="351.0" y1="478.25" x2="351.0" y2="480.75" stroke="#0a0a0a" stroke-width="1.2"/>
<line x1="348.8" y1="478.25" x2="353.2" y2="478.25" stroke="#0a0a0a" stroke-width="1.2"/>
<rect x="359.5" y="449.25" width="10.5" height="33.75" fill="#0a0a0a"/>
<line x1="364.75" y1="443.75" x2="364.75" y2="449.25" stroke="#0a0a0a" stroke-width="1.2"/>
<line x1="362.55" y1="443.75" x2="366.95" y2="443.75" stroke="#0a0a0a" stroke-width="1.2"/>
<rect x="375.5" y="463.75" width="10.25" height="19.25" fill="#0a0a0a"/>
<line x1="380.625" y1="460" x2="380.625" y2="463.75" stroke="#0a0a0a" stroke-width="1.2"/>
<line x1="378.425" y1="460" x2="382.825" y2="460" stroke="#0a0a0a" stroke-width="1.2"/>
<rect x="391.75" y="436.25" width="10.0" height="46.75" fill="#0a0a0a"/>
<line x1="396.75" y1="430.75" x2="396.75" y2="436.25" stroke="#0a0a0a" stroke-width="1.2"/>
<line x1="394.55" y1="430.75" x2="398.95" y2="430.75" stroke="#0a0a0a" stroke-width="1.2"/>
<rect x="407.5" y="439.25" width="10.5" height="43.75" fill="#0a0a0a"/>
<line x1="412.75" y1="427.5" x2="412.75" y2="439.25" stroke="#0a0a0a" stroke-width="1.2"/>
<line x1="410.55" y1="427.5" x2="414.95" y2="427.5" stroke="#0a0a0a" stroke-width="1.2"/>
<rect x="423.75" y="480" width="10.5" height="3" fill="#0a0a0a"/>
<line x1="429.0" y1="478.25" x2="429.0" y2="480" stroke="#0a0a0a" stroke-width="1.2"/>
<line x1="426.8" y1="478.25" x2="431.2" y2="478.25" stroke="#0a0a0a" stroke-width="1.2"/>
<rect x="441.75" y="419.5" width="10.25" height="63.5" fill="#0a0a0a"/>
<line x1="446.875" y1="417" x2="446.875" y2="419.5" stroke="#0a0a0a" stroke-width="1.2"/>
<line x1="444.675" y1="417" x2="449.075" y2="417" stroke="#0a0a0a" stroke-width="1.2"/>
<polyline points="379.5,420 379.5,414.5 412,414.5 412,420" fill="none" stroke="#0a0a0a" stroke-width="1"/>
<text x="395.5" y="413.5" font-size="11" text-anchor="middle" font-weight="normal" >*</text>
<text x="350.6" y="493.0" font-size="11" text-anchor="middle" font-weight="normal" class="s">-</text>
<text x="364.2" y="493.0" font-size="11" text-anchor="middle" font-weight="normal" class="s">-</text>
<text x="380" y="493.40000000000003" font-size="11" text-anchor="middle" font-weight="normal" class="s">+</text>
<text x="397.6" y="493.0" font-size="11" text-anchor="middle" font-weight="normal" class="s">-</text>
<text x="411.7" y="493.40000000000003" font-size="11" text-anchor="middle" font-weight="normal" class="s">+</text>
<text x="428.8" y="493.0" font-size="11" text-anchor="middle" font-weight="normal" class="s">-</text>
<text x="447.2" y="493.40000000000003" font-size="11" text-anchor="middle" font-weight="normal" class="s">+</text>
<text x="350.6" y="506.0" font-size="11" text-anchor="middle" font-weight="normal" class="s">-</text>
<text x="364.2" y="506.40000000000003" font-size="11" text-anchor="middle" font-weight="normal" class="s">+</text>
<text x="380" y="506.40000000000003" font-size="11" text-anchor="middle" font-weight="normal" class="s">+</text>
<text x="397.6" y="506.40000000000003" font-size="11" text-anchor="middle" font-weight="normal" class="s">+</text>
<text x="411.7" y="506.40000000000003" font-size="11" text-anchor="middle" font-weight="normal" class="s">+</text>
<text x="428.8" y="506.0" font-size="11" text-anchor="middle" font-weight="normal" class="s">-</text>
<text x="447.2" y="506.40000000000003" font-size="11" text-anchor="middle" font-weight="normal" class="s">+</text>
<text x="350.6" y="521.0" font-size="11" text-anchor="middle" font-weight="normal" class="s">-</text>
<text x="364.2" y="521.0" font-size="11" text-anchor="middle" font-weight="normal" class="s">-</text>
<text x="380" y="521.0" font-size="11" text-anchor="middle" font-weight="normal" class="s">-</text>
<text x="397.6" y="521.4" font-size="11" text-anchor="middle" font-weight="normal" class="s">+</text>
<text x="411.7" y="521.4" font-size="11" text-anchor="middle" font-weight="normal" class="s">+</text>
<text x="428.8" y="521.4" font-size="11" text-anchor="middle" font-weight="normal" class="s">+</text>
<text x="447.2" y="521.0" font-size="11" text-anchor="middle" font-weight="normal" class="s">-</text>
<text x="350.6" y="533.6" font-size="11" text-anchor="middle" font-weight="normal" class="s">-</text>
<text x="364.2" y="533.6" font-size="11" text-anchor="middle" font-weight="normal" class="s">-</text>
<text x="380" y="533.6" font-size="11" text-anchor="middle" font-weight="normal" class="s">-</text>
<text x="397.6" y="533.6" font-size="11" text-anchor="middle" font-weight="normal" class="s">-</text>
<text x="411.7" y="533.6" font-size="11" text-anchor="middle" font-weight="normal" class="s">-</text>
<text x="428.8" y="533.6" font-size="11" text-anchor="middle" font-weight="normal" class="s">-</text>
<text x="447.2" y="534.0" font-size="11" text-anchor="middle" font-weight="normal" class="s">+</text>
<text x="461.3" y="493.3" font-size="11.9" text-anchor="start" font-weight="normal" >IL-25</text>
<text x="461" y="506.5" font-size="11.8" text-anchor="start" font-weight="normal" >LPS</text>
<text x="461.3" y="521.3" font-size="12.3" text-anchor="start" font-weight="normal" >SB202190</text>
<text x="462.3" y="534" font-size="11.9" text-anchor="start" font-weight="normal" >DMSO</text>
</svg></body></html>
